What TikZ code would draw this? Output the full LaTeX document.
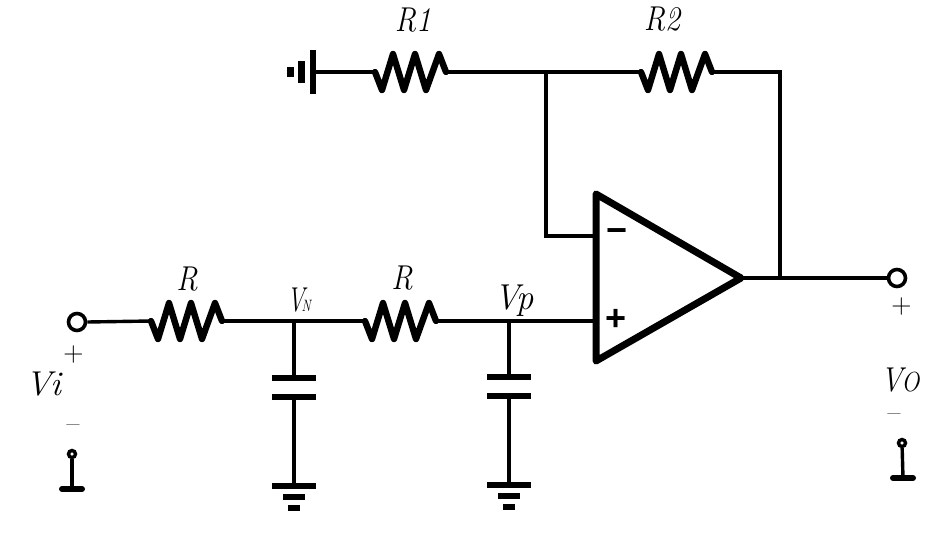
\documentclass[tikz,border=0pt]{standalone}
\usepackage{fontspec}
\newfontfamily\opfont{Liberation Sans}
\usetikzlibrary{calc}
\tikzset{
  wire/.style={line width=3.4pt,line cap=butt,line join=miter,black},
  zig/.style={line width=6.4pt,line join=round,line cap=round,black},
  plate/.style={line width=6pt,black},
  opamp/.style={line width=7pt,line join=round,line cap=round,black},
  term/.style={circle,draw=black,line width=3.6pt,fill=white,minimum size=17pt,inner sep=0pt},
  smallterm/.style={circle,draw=black,line width=3.4pt,fill=white,minimum size=7pt,inner sep=0pt},
  foot/.style={line width=6pt,line cap=round,black},
  lab/.style={inner sep=0pt,font=\fontsize{30}{30}\selectfont\itshape},
  sign/.style={inner sep=0pt,font=\fontsize{28}{28}\selectfont},
  opsign/.style={inner sep=0pt,font=\fontsize{36}{36}\opfont\bfseries},
  resistor/.pic={
    \coordinate (-in) at (0,0);
    \coordinate (-out) at (72,0);
    \draw[zig] (0,0) -- (7,18) -- (18,-18) -- (29,18) -- (40,-18) -- (51,18) -- (64,-18) -- (71,0);
  },
  gnd/.pic={
    \coordinate (-top) at (0,0);
    \draw[plate] (-22,0) -- (22,0);
    \draw[plate] (-11,11) -- (11,11);
    \draw[plate] (-6,22) -- (6,22);
  }
}
\begin{document}
\begin{tikzpicture}[x=1pt,y=-1pt]
\useasboundingbox (0,0) rectangle (944,533);
% ground at top left
\coordinate (gt) at (313,72);
\draw[plate] (313,50) -- (313,94);
\draw[line width=7pt] (301.5,61) -- (301.5,83);
\draw[line width=7pt] (290.5,67) -- (290.5,77);
% resistors
\pic (ra) at (375,72) {resistor};
\pic (rb) at (641,72) {resistor};
\pic (rc) at (151,321) {resistor};
\pic (rd) at (365,321) {resistor};
% op amp
\coordinate (oa) at (596,194);
\coordinate (ob) at (596,361);
\coordinate (oc) at (741,278);
\coordinate (jn) at (546,72);
\coordinate (jr) at (780,72);
\coordinate (jo) at (780,278);
\coordinate (minus) at (596,236);
\coordinate (plus) at (596,321);
\coordinate (vn) at (294,321);
\coordinate (vp) at (509,321);
% capacitors
\coordinate (cna) at (294,378);
\coordinate (cnb) at (294,397);
\coordinate (cpa) at (509,377);
\coordinate (cpb) at (509,396);
\pic (gn) at (294,486) {gnd};
\pic (gp) at (509,485) {gnd};
\node[term] (vin) at (77,322) {};
\node[term] (vout) at (897,278) {};
\node[smallterm] (ti) at (72,454) {};
\node[smallterm] (to) at (902,443) {};
\coordinate (fi) at (72,489);
\coordinate (fo) at (903,478);
% wires
\draw[wire] (gt) -- (ra-in);
\draw[wire] (ra-out) -- (rb-in);
\draw[wire] (rb-out) -- (jr) -- (jo);
\draw[wire] (jn) -- (jn |- minus) -- (minus);
\draw[wire] (oc) -- (vout);
\draw[wire] (vin.east) -- (rc-in);
\draw[wire] (rc-out) -- (rd-in);
\draw[wire] (rd-out) -- (plus);
\draw[wire] (vn) -- (cna);
\draw[wire] (cnb) -- (gn-top);
\draw[wire] (vp) -- (cpa);
\draw[wire] (cpb) -- (gp-top);
\draw[wire] (ti) -- (fi);
\draw[wire] (to) -- (fo);
\draw[foot] ($(fi)+(-10,0)$) -- ($(fi)+(10,0)$);
\draw[foot] ($(fo)+(-10,0)$) -- ($(fo)+(10,0)$);
\draw[plate] ($(cna)+(-22,0)$) -- ($(cna)+(22,0)$);
\draw[plate] ($(cnb)+(-22,0)$) -- ($(cnb)+(22,0)$);
\draw[plate] ($(cpa)+(-22,0)$) -- ($(cpa)+(22,0)$);
\draw[plate] ($(cpb)+(-22,0)$) -- ($(cpb)+(22,0)$);
\draw[opamp] (oa) -- (oc) -- (ob) -- cycle;
% labels
\node[lab] (l1) at (413,20) {\scalebox{1}[1.15]{R1}};
\node[lab] (l2) at (662,19) {\scalebox{1}[1.15]{R2}};
\node[lab] (l3) at (187,279) {\scalebox{1}[1.15]{R}};
\node[lab] (l4) at (402,278) {\scalebox{1}[1.15]{R}};
\node[lab,anchor=base west] (l5) at (287,311) {\scalebox{.8}[1.15]{V}\kern-3pt{\fontsize{15}{15}\selectfont\scalebox{.85}[1.1]{N}}};
\node[lab] (l6) at (514,301) {\scalebox{1.15}[1.2]{Vp}};
\node[lab] (l7) at (43,384) {\scalebox{1.2}[1.15]{Vi}};
\node[lab] (l8) at (900,380) {\scalebox{1}[1.15]{V\kern-1pt\scalebox{.8}{O}}};
\node[sign] at (73.5,355) {+};
\node[sign] at (73,429) {\textendash};
\node[sign] at (901.5,307) {+};
\node[sign] at (894,418) {\textendash};
\node[opsign] at (616,320) {+};
\node[opsign] at (617,236) {\textminus};
\end{tikzpicture}
\end{document}
